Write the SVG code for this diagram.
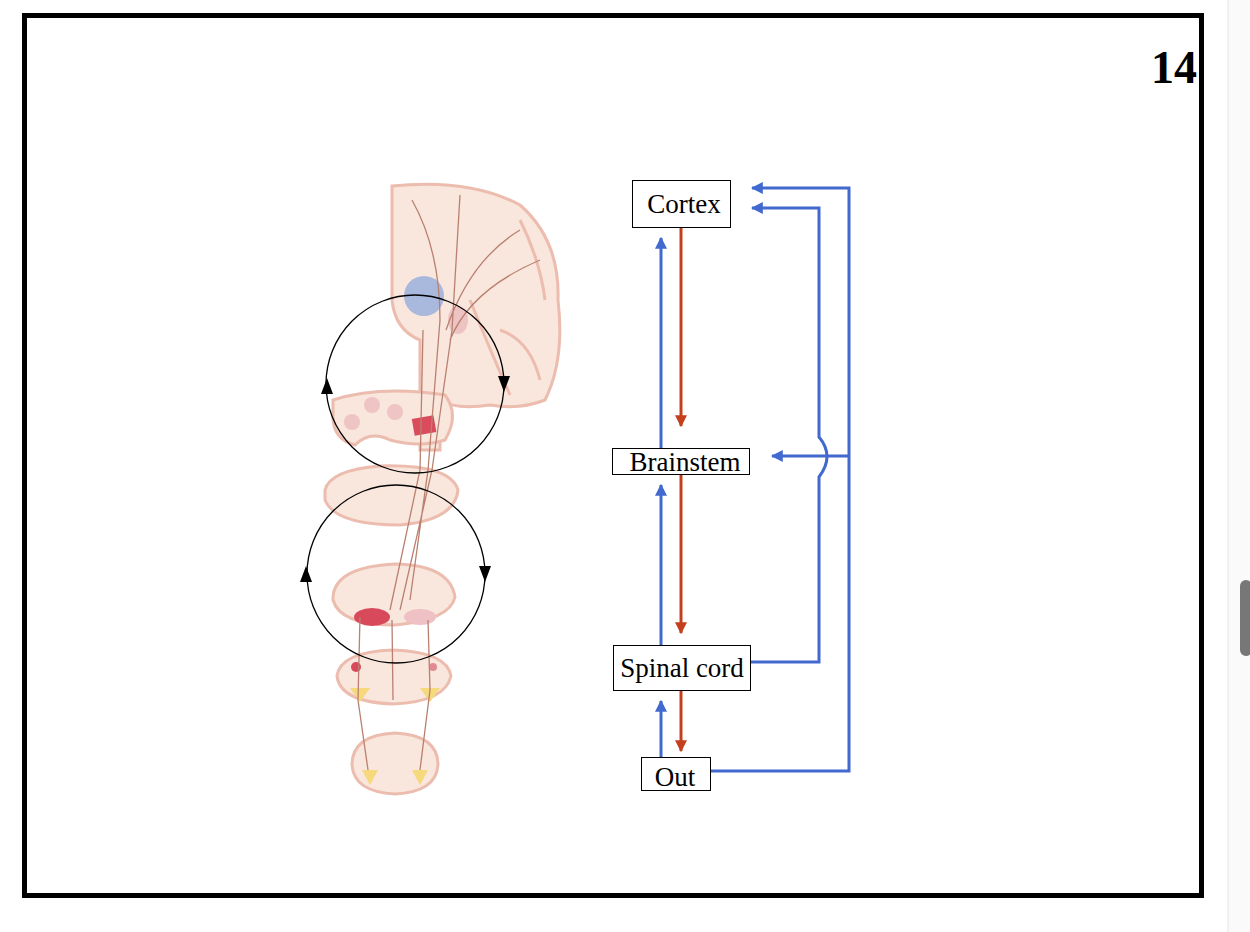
<svg xmlns="http://www.w3.org/2000/svg" width="1250" height="932" viewBox="0 0 1250 932">
<defs>
<style>
.box{fill:#fff;stroke:#000;stroke-width:1}
.lbl{font-family:"Liberation Serif",serif;font-size:27px;fill:#000;text-anchor:middle}
.blue{fill:none;stroke:#4169cf;stroke-width:3}
.red{fill:none;stroke:#c4401c;stroke-width:3}
.tis{fill:#f9e6dc;stroke:#ecbcae;stroke-width:3}
.tr{fill:none;stroke:#b98070;stroke-width:1.3}
.loop{fill:none;stroke:#000;stroke-width:1.3}
</style>
<marker id="ab" viewBox="0 0 10 10" refX="9" refY="5" markerWidth="4" markerHeight="4" orient="auto-start-reverse"><path d="M0,0L10,5L0,10z" fill="#4169cf"/></marker>
<marker id="ar" viewBox="0 0 10 10" refX="9" refY="5" markerWidth="4" markerHeight="4" orient="auto"><path d="M0,0L10,5L0,10z" fill="#c4401c"/></marker>
</defs>
<rect width="1250" height="932" fill="#fff"/>
<rect x="1228" y="0" width="22" height="932" fill="#fafafa"/>
<line x1="1228" y1="0" x2="1228" y2="932" stroke="#e4e4e4"/>
<rect x="1240" y="580" width="12" height="76" rx="6" fill="#777"/>
<rect x="24.5" y="15.5" width="1177" height="880" fill="none" stroke="#000" stroke-width="5"/>
<text x="1174" y="83" font-family="Liberation Serif,serif" font-size="46" font-weight="bold" text-anchor="middle">14</text>

<g id="anatomy">
<path class="tis" d="M392,186 Q470,178 520,205 Q560,240 558,300 Q565,360 545,400 Q520,410 490,405 Q455,410 440,400 L440,450 L420,450 L420,340 Q395,330 392,300 Z"/>
<path d="M520,220 Q540,260 545,300 M500,330 Q530,340 540,380 M470,300 Q490,350 510,395" fill="none" stroke="#ecbcae" stroke-width="3"/>
<ellipse cx="424" cy="296" rx="20" ry="20" fill="#a9b8dd"/>
<ellipse cx="458" cy="320" rx="10" ry="14" fill="#eec3c4"/>
<path class="tis" d="M333,400 Q380,385 445,395 Q460,415 445,440 Q420,448 390,440 Q370,430 355,445 Q335,440 333,420 Z"/>
<circle cx="372" cy="405" r="8" fill="#efc4c4"/><circle cx="395" cy="412" r="8" fill="#efc4c4"/><circle cx="352" cy="422" r="8" fill="#efc4c4"/>
<rect x="413" y="417" width="22" height="17" fill="#d94b5d" transform="rotate(-10 424 425)"/>
<path class="tis" d="M325,490 Q330,470 380,466 Q450,464 458,490 Q455,520 400,525 Q335,525 325,500 Z"/>
<path class="tis" d="M333,597 Q335,567 395,564 Q450,565 455,597 Q450,620 395,625 Q340,625 333,600 Z"/>
<ellipse cx="372" cy="617" rx="18" ry="9" fill="#d8495c"/>
<ellipse cx="420" cy="617" rx="16" ry="8" fill="#efc0c4"/>
<path class="tis" d="M337,676 Q340,652 393,650 Q447,652 451,676 Q445,702 393,704 Q340,702 337,676 Z"/>
<circle cx="356" cy="667" r="5" fill="#d8495c"/><circle cx="433" cy="667" r="4" fill="#e08b94"/>
<path d="M350,688 L370,688 L360,702Z M420,688 L440,688 L430,702Z" fill="#f5d97a"/>
<path class="tis" d="M352,765 Q352,735 395,733 Q438,735 438,765 Q436,792 395,794 Q354,792 352,765 Z"/>
<path d="M362,770 L378,770 L370,785Z M412,770 L428,770 L420,785Z" fill="#f5d97a"/>
<path class="tr" d="M412,200 Q440,250 440,320 L428,470 L410,600 M460,195 L452,330 L432,470 L400,610 M520,230 Q470,260 446,330 M540,260 Q470,290 450,340 M423,330 L420,470 L390,610 M360,617 L358,700 L368,770 M428,620 L430,690 L420,770 M392,620 L393,700"/>
</g>
<g id="loops">
<circle class="loop" cx="415" cy="384" r="89"/>
<circle class="loop" cx="396" cy="574" r="89"/>
<path d="M327,378 L321,394 L333,394Z M504,392 L498,376 L510,376Z M306,566 L300,582 L312,582Z M485,582 L479,566 L491,566Z" fill="#000"/>
</g>

<g id="connectors">
<line class="blue" x1="661" y1="448" x2="661" y2="238" marker-end="url(#ab)"/>
<line class="red" x1="681" y1="228" x2="681" y2="426" marker-end="url(#ar)"/>
<line class="blue" x1="661" y1="645" x2="661" y2="485" marker-end="url(#ab)"/>
<line class="red" x1="681" y1="475" x2="681" y2="633" marker-end="url(#ar)"/>
<line class="blue" x1="661" y1="757" x2="661" y2="701" marker-end="url(#ab)"/>
<line class="red" x1="681" y1="691" x2="681" y2="751" marker-end="url(#ar)"/>
<path class="blue" d="M711,771 H849 V188 H752" marker-end="url(#ab)"/>
<path class="blue" d="M751,662 H819 V477 Q835,456 819,437 V208 H752" marker-end="url(#ab)"/>
<path class="blue" d="M849,456 H772" marker-end="url(#ab)"/>
</g>

<g id="cortex"><rect class="box" x="632.5" y="180.5" width="98" height="47"/><text class="lbl" x="684" y="213">Cortex</text></g>
<g id="brainstem"><rect class="box" x="612.5" y="448.5" width="137" height="26"/><text class="lbl" x="685" y="471">Brainstem</text></g>
<g id="spinal"><rect class="box" x="613.5" y="645.5" width="137" height="45"/><text class="lbl" x="682" y="677">Spinal cord</text></g>
<g id="out"><rect class="box" x="641.5" y="757.5" width="69" height="33"/><text class="lbl" x="675" y="786">Out</text></g>
</svg>
